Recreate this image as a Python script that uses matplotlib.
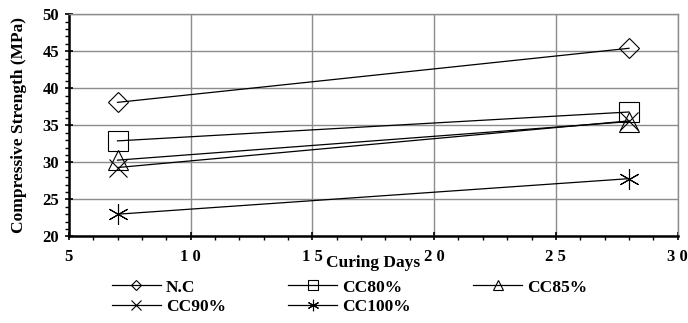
import matplotlib
matplotlib.use("Agg")
import matplotlib.pyplot as plt
from matplotlib.ticker import MultipleLocator, FixedLocator, FixedFormatter

# curing ages (days) and strengths (MPa)
days = [7, 28]
nc = [38.1, 45.4]
cc80 = [32.9, 36.8]
cc85 = [30.3, 35.5]
cc90 = [29.3, 35.6]
cc100 = [23.0, 27.8]

series = [
    ("N.C", nc, "D", 10),
    ("CC80%", cc80, "s", 14),
    ("CC85%", cc85, "^", 14),
    ("CC90%", cc90, "x", 13),
    ("CC100%", cc100, (6, 2, 0), 15),
]

xticks = [5, 10, 15, 20, 25, 30]
xtick_labels = ["5", "1 0", "1 5", "2 0", "2 5", "3 0"]
yticks = [20, 25, 30, 35, 40, 45, 50]

plt.rcParams["font.family"] = ["Liberation Serif", "DejaVu Serif"]
plt.rcParams["font.weight"] = "bold"

fig = plt.figure(figsize=(6.88, 3.23), dpi=100)
ax = fig.add_axes([0.1, 0.268, 0.885, 0.688])

lines = {}
for name, vals, mk, ms in series:
    ln, = ax.plot(days, vals, color="black", lw=0.9, marker=mk, ms=ms,
                  mfc="none", mec="black", mew=0.8, label=name)
    lines[name] = ln

ax.set_xlim(5, 30)
ax.set_ylim(20, 50)
ax.xaxis.set_major_locator(FixedLocator(xticks))
ax.xaxis.set_major_formatter(FixedFormatter(xtick_labels))
ax.xaxis.set_minor_locator(MultipleLocator(1))
ax.yaxis.set_major_locator(FixedLocator(yticks))
ax.yaxis.set_minor_locator(MultipleLocator(1))

ax.grid(True, which="major", color="#8c8c8c", lw=1.0)
ax.set_axisbelow(True)
for side in ("top", "right"):
    ax.spines[side].set_color("#8c8c8c")
    ax.spines[side].set_linewidth(1.0)
for side in ("left", "bottom"):
    ax.spines[side].set_color("black")
    ax.spines[side].set_linewidth(1.8)

ax.tick_params(which="major", direction="inout", length=6, width=1.2, labelsize=12)
ax.tick_params(which="minor", direction="out", length=3, width=1.0)
ax.tick_params(axis="x", pad=6)
ax.tick_params(axis="y", pad=4)
for lab in ax.get_xticklabels() + ax.get_yticklabels():
    lab.set_fontweight("bold")

ax.set_ylabel("Compressive Strength (MPa)", fontsize=12.5, fontweight="bold", labelpad=11)
ax.set_xlabel("Curing Days", fontsize=12.5, fontweight="bold", labelpad=-7)

# legend fills column-wise, so reorder to read row-wise like the original
order = ["N.C", "CC90%", "CC80%", "CC100%", "CC85%"]
leg = fig.legend([lines[k] for k in order], order, loc="upper left",
                 bbox_to_anchor=(0.163, 0.135), ncol=3, frameon=False,
                 fontsize=12.5, handlelength=2.8, columnspacing=3.6,
                 handletextpad=0.3, labelspacing=0.2, borderaxespad=0,
                 borderpad=0, markerscale=0.55)
for t in leg.get_texts():
    t.set_fontweight("bold")

fig.savefig("out.png", dpi=100)
